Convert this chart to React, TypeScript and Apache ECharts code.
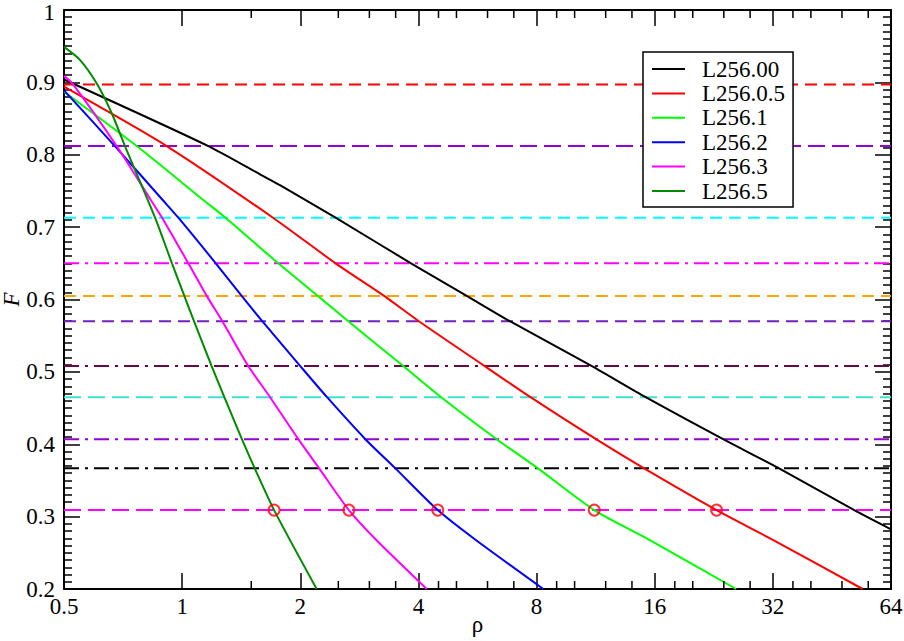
import React, { useEffect, useRef } from "react";
import * as echarts from "echarts";

const seriesNames = ["L256.00", "L256.0.5", "L256.1", "L256.2", "L256.3", "L256.5"];

const blackX = [0.5, 1.166, 1.579, 1.775, 2.46, 3.83, 5.31, 6.84, 11.07, 15.18, 23.9, 33.1, 51.6, 64];
const blackY = [0.904, 0.812, 0.773, 0.758, 0.713, 0.65, 0.605, 0.57, 0.508, 0.465, 0.407, 0.367, 0.309, 0.2825];

const redX = [0.5, 0.913, 1.704, 2.46, 3.27, 4.01, 5.9, 7.72, 11.34, 15.0, 23.0, 32.0, 54.2];
const redY = [0.894, 0.812, 0.713, 0.65, 0.605, 0.57, 0.508, 0.465, 0.407, 0.367, 0.309, 0.268, 0.2];

const greenX = [0.5, 0.766, 1.132, 1.29, 1.758, 2.216, 2.65, 3.66, 4.57, 6.33, 8.05, 11.22, 15.5, 25.8];
const greenY = [0.887, 0.812, 0.7375, 0.713, 0.65, 0.605, 0.57, 0.508, 0.465, 0.407, 0.367, 0.309, 0.268, 0.2];

const blueX = [0.5, 0.674, 0.892, 0.978, 1.218, 1.418, 1.6, 2.0, 2.34, 2.93, 3.49, 4.48, 5.59, 8.32];
const blueY = [0.889, 0.812, 0.7375, 0.713, 0.65, 0.605, 0.57, 0.508, 0.465, 0.407, 0.367, 0.309, 0.268, 0.2];

const magentaX = [0.5, 0.528, 0.681, 0.832, 0.889, 1.037, 1.155, 1.266, 1.474, 1.675, 1.977, 2.232, 2.66, 3.12, 4.2];
const magentaY = [0.909, 0.897, 0.812, 0.7375, 0.713, 0.65, 0.605, 0.57, 0.508, 0.465, 0.407, 0.367, 0.309, 0.268, 0.2];

const darkGreenX = [0.5, 0.549, 0.608, 0.662, 0.715, 0.853, 0.942, 1.013, 1.072, 1.189, 1.281, 1.42, 1.53, 1.715, 2.202];
const darkGreenY = [0.949, 0.931, 0.897, 0.857, 0.812, 0.713, 0.65, 0.605, 0.57, 0.508, 0.465, 0.407, 0.367, 0.309, 0.2];

const circleX = [1.715, 2.66, 4.48, 11.22, 23.0];
const circleY = [0.309, 0.309, 0.309, 0.309, 0.309];

const refLevels = [0.897, 0.812, 0.713, 0.65, 0.605, 0.57, 0.508, 0.465, 0.407, 0.367, 0.309];

const xMinorTicks = [1.5, 2.5, 3, 3.5, 4.5, 5, 6, 7, 9, 10, 12, 14, 18, 20, 24, 28, 36, 40, 48, 56];

const xMin = 0.5;
const xMax = 64;

// styles (kept apart from data)
const curveColors = ["#000000", "#ff0000", "#00ff00", "#0000ff", "#ff00ff", "#008b00"];
const DASH = [12, 7];
const LONGDASH = [17, 7];
const DASHDOT = [15, 6, 3, 6];
const refStyles = [
  { color: "#ff0000", type: DASH },
  { color: "#9400d3", type: LONGDASH },
  { color: "#00ffff", type: DASH },
  { color: "#ff00ff", type: DASHDOT },
  { color: "#ffa500", type: DASH },
  { color: "#7221bc", type: DASH },
  { color: "#670748", type: DASHDOT },
  { color: "#40e0d0", type: LONGDASH },
  { color: "#9400d3", type: DASHDOT },
  { color: "#000000", type: DASHDOT },
  { color: "#ff00ff", type: LONGDASH },
];

const FONT = "'Liberation Serif', 'Times New Roman', serif";

const zip = (xs: number[], ys: number[]) => xs.map((x, i) => [x, ys[i]]);

export default function App() {
  const ref = useRef<HTMLDivElement>(null);
  useEffect(() => {
    if (!ref.current) return;
    const chart = echarts.init(ref.current, undefined, { renderer: "svg" });

    const curves = [
      zip(blackX, blackY),
      zip(redX, redY),
      zip(greenX, greenY),
      zip(blueX, blueY),
      zip(magentaX, magentaY),
      zip(darkGreenX, darkGreenY),
    ];

    const axisLine = { show: true, lineStyle: { color: "#000", width: 2 } };
    const tick = { show: true, inside: true, length: 16, lineStyle: { color: "#000", width: 1.5 } };
    const minorTick = { show: true, splitNumber: 10, length: 8, lineStyle: { color: "#000", width: 1.5 } };
    const labelStyle = { fontFamily: FONT, fontSize: 23, color: "#000", lineHeight: 16 };

    const refSeries = refLevels.map((lvl, i) => ({
      type: "line",
      data: [
        [xMin, lvl],
        [xMax, lvl],
      ],
      symbol: "none",
      silent: true,
      z: 1,
      lineStyle: { color: refStyles[i].color, width: 2, type: refStyles[i].type },
    }));

    const curveSeries = curves.map((d, i) => ({
      name: seriesNames[i],
      type: "line",
      data: d,
      symbol: "none",
      smooth: 0.25,
      z: 3,
      color: curveColors[i],
      lineStyle: { color: curveColors[i], width: 2 },
    }));

    const minorSeries = {
      type: "custom",
      silent: true,
      clip: false,
      z: 5,
      data: xMinorTicks.map((v) => [v, 0.5]),
      encode: { x: 0, y: 1 },
      renderItem: (params: any, api: any) => {
        const x = api.coord([api.value(0), 0.5])[0];
        const cs = params.coordSys;
        const bottom = cs.y + cs.height;
        const style = { stroke: "#000", lineWidth: 1.5 };
        return {
          type: "group",
          children: [
            { type: "line", shape: { x1: x, y1: bottom, x2: x, y2: bottom - 8 }, style },
            { type: "line", shape: { x1: x, y1: cs.y, x2: x, y2: cs.y + 8 }, style },
          ],
        };
      },
    };

    const circleSeries = {
      type: "scatter",
      data: zip(circleX, circleY),
      symbol: "circle",
      symbolSize: 11,
      z: 6,
      itemStyle: { color: "transparent", borderColor: "#ff0000", borderWidth: 2 },
    };

    const yFormatter = (v: number) => {
      const s = String(Math.round(v * 10) / 10);
      return Math.abs(v - 1) < 1e-9 ? "{top|" + s + "}" : s;
    };

    chart.setOption({
      animation: false,
      backgroundColor: "#ffffff",
      grid: { left: 64, right: 13, top: 10, bottom: 52, containLabel: false, outerBoundsMode: "none" },
      legend: {
        data: seriesNames,
        orient: "vertical",
        left: 643,
        top: 52,
        icon: "rect",
        itemWidth: 33,
        itemHeight: 2,
        itemGap: 0.4,
        padding: [5, 8, 4, 9],
        backgroundColor: "#fff",
        borderColor: "#000",
        borderWidth: 1.5,
        borderRadius: 0,
        textStyle: { fontFamily: FONT, fontSize: 23, color: "#000", lineHeight: 24, padding: [0, 0, 0, 12] },
      },
      xAxis: [
        {
          type: "log",
          logBase: 2,
          min: xMin,
          max: xMax,
          splitNumber: 7,
          position: "bottom",
          axisLine,
          axisTick: tick,
          splitLine: { show: false },
          axisLabel: { ...labelStyle, margin: 9 },
          name: "ρ",
          nameLocation: "middle",
          nameGap: 23,
          nameMoveOverlap: false,
          nameTextStyle: { fontFamily: FONT, fontSize: 23, color: "#000", lineHeight: 24 },
        },
        {
          type: "log",
          logBase: 2,
          min: xMin,
          max: xMax,
          splitNumber: 7,
          position: "top",
          axisLine,
          axisTick: tick,
          splitLine: { show: false },
          axisLabel: { show: false },
        },
      ],
      yAxis: [
        {
          type: "value",
          min: 0.2,
          max: 1,
          interval: 0.1,
          position: "left",
          axisLine,
          axisTick: tick,
          minorTick,
          splitLine: { show: false },
          axisLabel: {
            ...labelStyle,
            margin: 9,
            formatter: yFormatter,
            rich: {
              top: { fontFamily: FONT, fontSize: 23, color: "#000", lineHeight: 10, padding: [5, 0, 0, 0] },
            },
          },
          name: "F",
          nameLocation: "middle",
          nameGap: 44,
          nameMoveOverlap: false,
          nameTextStyle: { fontFamily: FONT, fontSize: 23, color: "#000", fontStyle: "italic", lineHeight: 18 },
        },
        {
          type: "value",
          min: 0.2,
          max: 1,
          interval: 0.1,
          position: "right",
          axisLine,
          axisTick: tick,
          minorTick,
          splitLine: { show: false },
          axisLabel: { show: false },
        },
      ],
      series: [...refSeries, ...curveSeries, minorSeries, circleSeries],
    });

    return () => chart.dispose();
  }, []);

  return <div ref={ref} style={{ position: "fixed", left: 0, top: 0, width: 904, height: 641 }} />;
}
